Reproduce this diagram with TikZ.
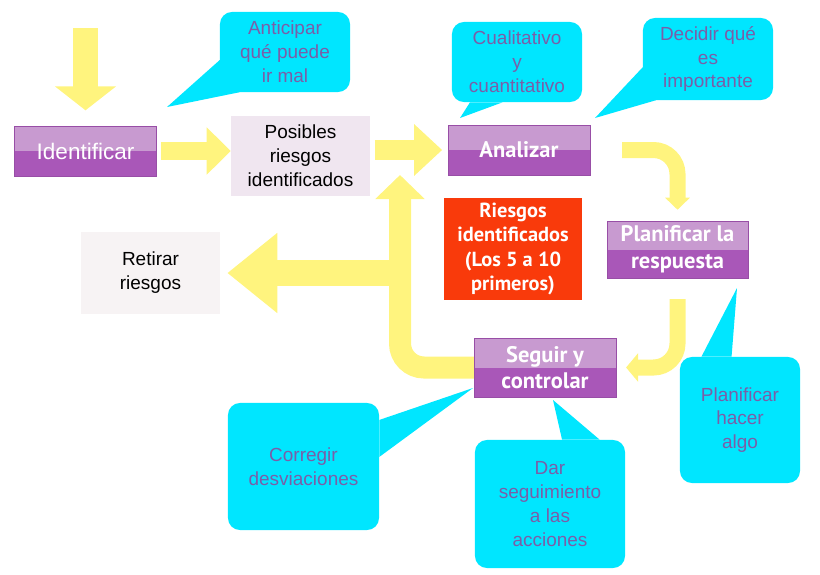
\documentclass[tikz,border=0pt]{standalone}
\usepackage{fontspec}
\setmainfont{Liberation Sans}
\newfontfamily\pasofont{PT Sans}
\usepackage{tikz}
\usetikzlibrary{arrows.meta,positioning,backgrounds,calc,shadows}
\definecolor{flecha}{HTML}{FFF47E}
\definecolor{lila}{HTML}{A957B8}
\definecolor{lilaclaro}{HTML}{C89AD0}
\definecolor{celeste}{HTML}{00E6FF}
\definecolor{textonota}{HTML}{7A5EA8}
\definecolor{rojo}{HTML}{F93A0B}
\definecolor{rosado}{HTML}{F0E6F0}
\definecolor{gris}{HTML}{F7F3F4}

\begin{document}
\begin{tikzpicture}[x=0.025cm, y=-0.025cm,
 paso/.style={fill=lila, draw=lila!90!black, line width=0.3pt, text=white,
  font=\pasofont\bfseries\fontsize{16}{19}\selectfont, align=center,
  minimum width=3.55cm, minimum height=1.25cm,
  drop shadow={shadow xshift=0.6pt, shadow yshift=-1pt, opacity=0.3},
  path picture={\fill[lilaclaro] (path picture bounding box.north west) rectangle (path picture bounding box.east);}},
 caja/.style={text=black, font=\fontsize{13.5}{17}\selectfont, align=center,
  minimum width=3.475cm, minimum height=2cm},
 nota/.style={fill=celeste, rounded corners=0.3cm, text=textonota,
  font=\fontsize{13.5}{17}\selectfont, align=center, inner sep=2pt},
 bloque/.style n args={3}{draw=flecha, line width=#1, -{Triangle[length=#2,width=#3]}}]
\useasboundingbox (0,0) rectangle (820,574);

% pasos
\node[paso, font=\fontsize{16}{17}\selectfont] (ident) at (85.5,151) {Identificar};
\node[paso] (analizar) at (519,150) {Analizar};
\node[paso, minimum width=3.525cm, minimum height=1.325cm] (planif) at (677.5,249.5) {Planificar la\\respuesta};
\node[paso, minimum height=1.475cm] (seguir) at (545,367.5) {Seguir y\\controlar};

% resultados
\node[caja, fill=rosado] (posibles) at (300.5,156) {Posibles\\riesgos\\identificados};
\node[caja, fill=gris, minimum height=2.05cm] (retirar) at (150.5,273) {Retirar\\riesgos};
\node[caja, fill=rojo, text=white, font=\pasofont\bfseries\fontsize{14.5}{17.5}\selectfont,
 minimum width=3.45cm, minimum height=2.55cm] (riesgos) at (513,249) {Riesgos\\identificados\\(Los 5 a 10\\primeros)};

% notas
\node[nota, minimum width=3.25cm, minimum height=2cm] (anticipar) at (285,52) {Anticipar\\qué puede\\ir mal};
\node[nota, minimum width=3.25cm, minimum height=2cm] (cuali) at (517,62) {Cualitativo\\y\\cuantitativo};
\node[nota, minimum width=3.25cm, minimum height=2.05cm] (decidir) at (708,59) {Decidir qué\\es\\importante};
\node[nota, minimum width=3.775cm, minimum height=3.175cm] (corregir) at (303.5,466.5) {Corregir\\desviaciones};
\node[nota, minimum width=3.75cm, minimum height=3.2cm] (dar) at (550,504) {Dar\\seguimiento\\a las\\acciones};
\node[nota, minimum width=3cm, minimum height=3.15cm] (hacer) at (740,420) {Planificar\\hacer\\algo};

\coordinate (entrada) at (85.5,28);
\coordinate (vuelta) at (400,175);

\begin{scope}[on background layer]
\fill[celeste] ($(anticipar.west)!0.2!(anticipar.south west)$) -- (167,107) -- ($(anticipar.south west)!0.15!(anticipar.south east)$) -- cycle;
\fill[celeste] ($(cuali.south west)!0.14!(cuali.south east)$) -- (460,118) -- ($(cuali.south west)!0.39!(cuali.south east)$) -- cycle;
\fill[celeste] ($(decidir.west)!0.2!(decidir.south west)$) -- (595,118) -- ($(decidir.south west)!0.1!(decidir.south east)$) -- cycle;
\fill[celeste] ($(corregir.north east)!0.27!(corregir.east)$) -- (473,388) -- ($(corregir.north east)!0.85!(corregir.east)$) -- cycle;
\fill[celeste] ($(dar.north west)!0.58!(dar.north east)$) -- (553,400) -- ($(dar.north west)!0.83!(dar.north east)$) -- cycle;
\fill[celeste] ($(hacer.north west)!0.18!(hacer.north east)$) -- (737,288) -- ($(hacer.north west)!0.43!(hacer.north east)$) -- cycle;
\end{scope}

% flechas
\draw[bloque={0.6cm}{0.6cm}{1.5cm}] (entrada) -- (entrada |- ident.north) [shorten >=11];
\draw[bloque={0.45cm}{0.6cm}{1.15cm}, shorten <=3pt] (ident.east) -- (ident.east -| posibles.west);
\draw[bloque={0.5cm}{0.7cm}{1.25cm}, shorten <=3pt, shorten >=4pt] (posibles.east |- analizar.west) -- (analizar.west);
\draw[bloque={0.4cm}{0.3cm}{0.6cm}, rounded corners=0.6cm, shorten >=8pt] ($(analizar.east)+(32,0)$) -| (planif.north);
\draw[bloque={0.4cm}{0.3cm}{0.7cm}, rounded corners=0.6cm, shorten >=7pt] ($(planif.south)+(0,21)$) |- (seguir.east);
\draw[bloque={0.55cm}{0.6cm}{1.2cm}, rounded corners=0.6cm] (seguir.west) -| (vuelta);
\draw[bloque={0.65cm}{1.25cm}{1.925cm}, shorten <=8pt, shorten >=5pt] (vuelta |- retirar.east) -- (retirar.east);
\end{tikzpicture}
\end{document}
